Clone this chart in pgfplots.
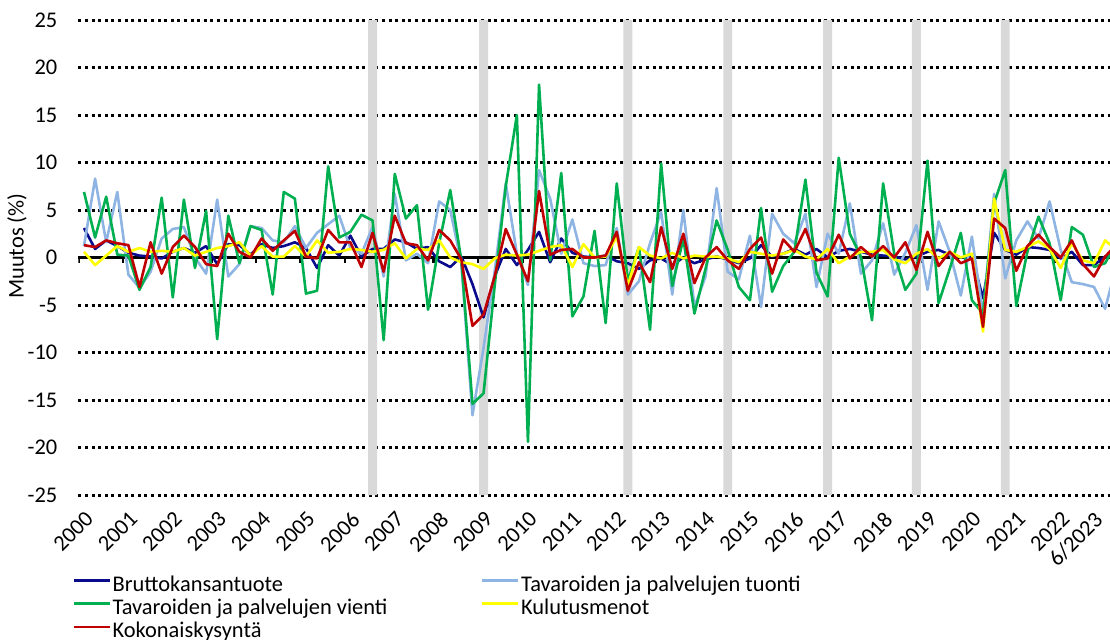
\documentclass[border=0pt]{standalone}
\usepackage{fontspec}
\setmainfont{Carlito}
\usepackage{pgfplots}
\pgfplotsset{compat=1.18}
\usepackage{pgfplotstable}
\definecolor{gdpblue}{HTML}{0A0A8C}
\definecolor{impblue}{HTML}{8DB4E2}
\definecolor{expgreen}{HTML}{00B050}
\definecolor{consyellow}{HTML}{FFFF00}
\definecolor{totred}{HTML}{C00000}
\definecolor{bargray}{HTML}{D9D9D9}

\pgfplotstableread{
i gdp imp exp cons tot
0 3.1 1.2 6.9 0.6 1.3
1 0.9 8.3 2.1 -0.8 1.1
2 1.8 1.6 6.4 0.2 1.8
3 1.2 6.9 0.3 1.2 1.5
4 0.5 -1.8 0.2 0.6 1.3
5 0.2 -3.2 -3.4 1.0 -3.1
6 0.1 -1.5 -1.0 0.6 1.6
7 -0.1 2.0 6.3 0.7 -1.7
8 0.6 3.0 -4.2 0.6 1.1
9 1.0 3.2 6.1 1.0 2.3
10 0.5 0.0 -1.1 0.2 1.1
11 1.2 -1.7 4.9 0.6 -0.7
12 -0.7 6.1 -8.6 1.0 -0.9
13 1.4 -2.0 4.4 1.2 2.5
14 1.3 -0.7 -0.6 1.6 0.6
15 0.3 3.3 3.3 0.2 0.0
16 1.4 3.1 2.9 1.2 2.0
17 1.0 1.8 -3.9 0.1 0.7
18 1.2 1.6 6.9 0.1 1.8
19 1.6 3.3 6.2 1.2 2.8
20 1.0 1.0 -3.8 0.1 0.1
21 -1.1 2.6 -3.5 1.8 -0.1
22 1.3 3.5 9.6 0.5 2.9
23 0.2 4.4 2.1 0.6 1.6
24 2.3 1.0 2.7 0.9 1.6
25 0.1 0.4 4.5 0.8 -1.0
26 0.9 3.2 3.9 0.6 2.6
27 0.9 -2.0 -8.7 0.8 -1.5
28 1.9 6.7 8.8 1.5 4.4
29 1.6 -0.3 4.1 -0.1 1.5
30 0.9 0.4 5.5 0.9 1.3
31 1.1 -0.6 -5.5 0.8 -0.3
32 -0.4 5.9 1.5 1.8 2.9
33 -1.0 5.0 7.1 0.0 1.8
34 0.1 -0.6 -0.3 -0.5 -0.2
35 -2.8 -16.6 -15.4 -0.7 -7.2
36 -6.3 -9.5 -14.3 -1.2 -6.0
37 -2.0 -1.5 -3.0 -0.1 -2.0
38 0.9 7.8 7.5 0.3 3.0
39 -0.8 0.4 15.0 0.2 0.3
40 0.8 -2.9 -19.4 0.3 -2.5
41 2.7 9.2 18.2 0.7 7.0
42 -0.5 6.2 -0.3 1.1 0.3
43 2.0 0.4 8.9 1.3 0.8
44 0.5 4.0 -6.2 -1.0 0.9
45 0.1 -0.6 -4.1 1.4 0.0
46 0.0 -0.9 2.8 0.0 0.0
47 0.2 -0.8 -6.9 0.1 0.2
48 -0.4 3.1 7.8 2.2 2.7
49 -0.6 -3.9 -2.5 -3.0 -3.5
50 -1.2 -2.5 1.1 1.1 -0.5
51 -0.3 1.5 -7.6 0.2 -2.6
52 -0.1 4.8 9.9 -0.1 3.2
53 -0.8 -3.9 -3.0 0.5 -1.2
54 0.0 5.0 2.0 -0.1 2.5
55 -0.6 -5.2 -5.9 0.2 -2.7
56 -0.2 -2.0 -1.2 0.1 0.0
57 0.1 7.3 3.9 0.1 1.1
58 -0.2 -1.5 0.8 -0.1 -0.3
59 -0.6 -2.3 -3.1 -0.5 -1.2
60 -0.1 2.3 -4.5 0.6 0.9
61 1.3 -5.2 5.2 0.4 2.1
62 0.1 4.6 -3.6 0.2 -1.7
63 0.4 2.5 -0.9 0.4 1.9
64 0.9 1.5 0.6 0.8 0.6
65 0.3 4.6 8.2 0.1 3.0
66 0.9 -3.1 -1.6 -0.2 -0.3
67 0.0 2.5 -4.1 0.9 -0.1
68 0.7 0.4 10.5 -0.6 2.4
69 0.9 5.7 2.5 0.1 -0.1
70 0.6 -1.7 0.1 0.6 1.1
71 0.3 -0.3 -6.6 0.6 0.1
72 0.2 3.6 7.8 0.8 1.2
73 0.1 -1.8 0.4 -0.2 0.0
74 -0.2 0.5 -3.4 -0.6 1.6
75 0.1 3.4 -1.7 0.4 -1.3
76 0.6 -3.4 10.2 0.9 2.7
77 0.8 3.8 -4.8 -0.1 -0.9
78 0.3 0.6 -1.2 0.6 0.6
79 0.0 -4.0 2.6 0.0 -0.6
80 0.1 2.2 -4.5 0.4 -0.1
81 -4.3 -6.0 -5.9 -7.8 -7.3
82 2.6 6.7 5.7 6.2 4.1
83 0.8 -2.2 9.2 0.8 3.1
84 0.3 1.8 -5.1 0.6 -1.4
85 1.1 3.8 0.6 1.1 1.2
86 1.0 2.0 4.3 1.7 2.4
87 0.8 5.9 1.5 0.9 1.1
88 -0.1 0.8 -4.5 -1.1 0.0
89 0.6 -2.6 3.2 1.5 1.8
90 -0.8 -2.8 2.4 -0.3 -0.7
91 -0.8 -3.1 -1.0 -0.6 -2.0
92 0.1 -5.4 -0.6 1.8 0.1
93 0.2 -1.0 1.5 0.8 1.3
}\datatable

\begin{document}
\begin{tikzpicture}
\begin{axis}[
  at={(0,0)}, anchor=south west,
  scale only axis, width=1043.4bp, height=475bp,
  xmin=-0.5, xmax=93.5, ymin=-25, ymax=25,
  axis line style={draw=none},
  major tick length=0pt,
  ytick={-25,-20,-15,-10,-5,0,5,10,15,20,25},
  yticklabels={-25,-20,-15,-10,-5,0,5,10,15,20,25},
  xtick={0,4,8,12,16,20,24,28,32,36,40,44,48,52,56,60,64,68,72,76,80,84,88,90.9},
  xticklabels={2000,2001,2002,2003,2004,2005,2006,2007,2008,2009,2010,2011,2012,2013,2014,2015,2016,2017,2018,2019,2020,2021,2022,6/2023},
  ymajorgrids,
  grid style={black, line width=3bp, dash pattern=on 3bp off 3.6bp},
  tick label style={font=\fontsize{22.5}{26}\selectfont},
  yticklabel style={anchor=east, inner sep=0pt, xshift=-21bp},
  xticklabel style={yshift=-15bp, rotate=45, anchor=north east, inner sep=0pt},
  ylabel={Muutos (\%)},
  every axis y label/.style={at={(axis description cs:-0.0589,0.524)}, rotate=90, anchor=center, font=\fontsize{22.5}{26}\selectfont},
  legend columns=2,
  legend cell align=left,
  legend style={at={(axis description cs:0,0)}, anchor=north west, xshift=-5.95bp, yshift=-80bp,
    draw=none, fill=none, inner sep=0pt, outer sep=0pt, row sep=2.2bp,
    font=\fontsize{22.5}{26}\selectfont,
    nodes={inner xsep=1.5bp, inner ysep=0pt, text height=16bp, text depth=5bp},
    /tikz/every even column/.append style={column sep=92bp}},
  legend image code/.code={\draw[#1, line width=2.6bp] (0bp,5bp) -- (36bp,5bp);},
]
\addplot[ybar, bar width=0.8, bar shift=0pt, fill=bargray, draw=none, forget plot]
  coordinates {(26,25) (26,-25) (36,25) (36,-25) (49,25) (49,-25) (58,25) (58,-25) (67,25) (67,-25) (75,25) (75,-25) (83,25) (83,-25)};
\addplot[black, line width=3.5bp, forget plot] coordinates {(-0.5,0) (93.5,0)};
\addplot[ycomb, black, line width=2.5bp, forget plot, mark=none]
  coordinates {(-0.5,-0.55) (3.5,-0.55) (7.5,-0.55) (11.5,-0.55) (15.5,-0.55) (19.5,-0.55) (23.5,-0.55) (27.5,-0.55) (31.5,-0.55) (35.5,-0.55) (39.5,-0.55) (43.5,-0.55) (47.5,-0.55) (51.5,-0.55) (55.5,-0.55) (59.5,-0.55) (63.5,-0.55) (67.5,-0.55) (71.5,-0.55) (75.5,-0.55) (79.5,-0.55) (83.5,-0.55) (87.5,-0.55) (91.5,-0.55)};
\addplot[gdpblue, line width=2.6bp, line join=round] table[x=i, y=gdp] {\datatable};
\addlegendentry{Bruttokansantuote}
\addplot[impblue, line width=2.6bp, line join=round] table[x=i, y=imp] {\datatable};
\addlegendentry{Tavaroiden ja palvelujen tuonti}
\addplot[expgreen, line width=2.6bp, line join=round] table[x=i, y=exp] {\datatable};
\addlegendentry{Tavaroiden ja palvelujen vienti}
\addplot[consyellow, line width=2.6bp, line join=round] table[x=i, y=cons] {\datatable};
\addlegendentry{Kulutusmenot}
\addplot[totred, line width=2.6bp, line join=round] table[x=i, y=tot] {\datatable};
\addlegendentry{Kokonaiskysyntä}
\end{axis}
\pgfresetboundingbox
\path[use as bounding box] (-78.45bp,-145bp) rectangle (1031.55bp,495bp);
\end{tikzpicture}
\end{document}
